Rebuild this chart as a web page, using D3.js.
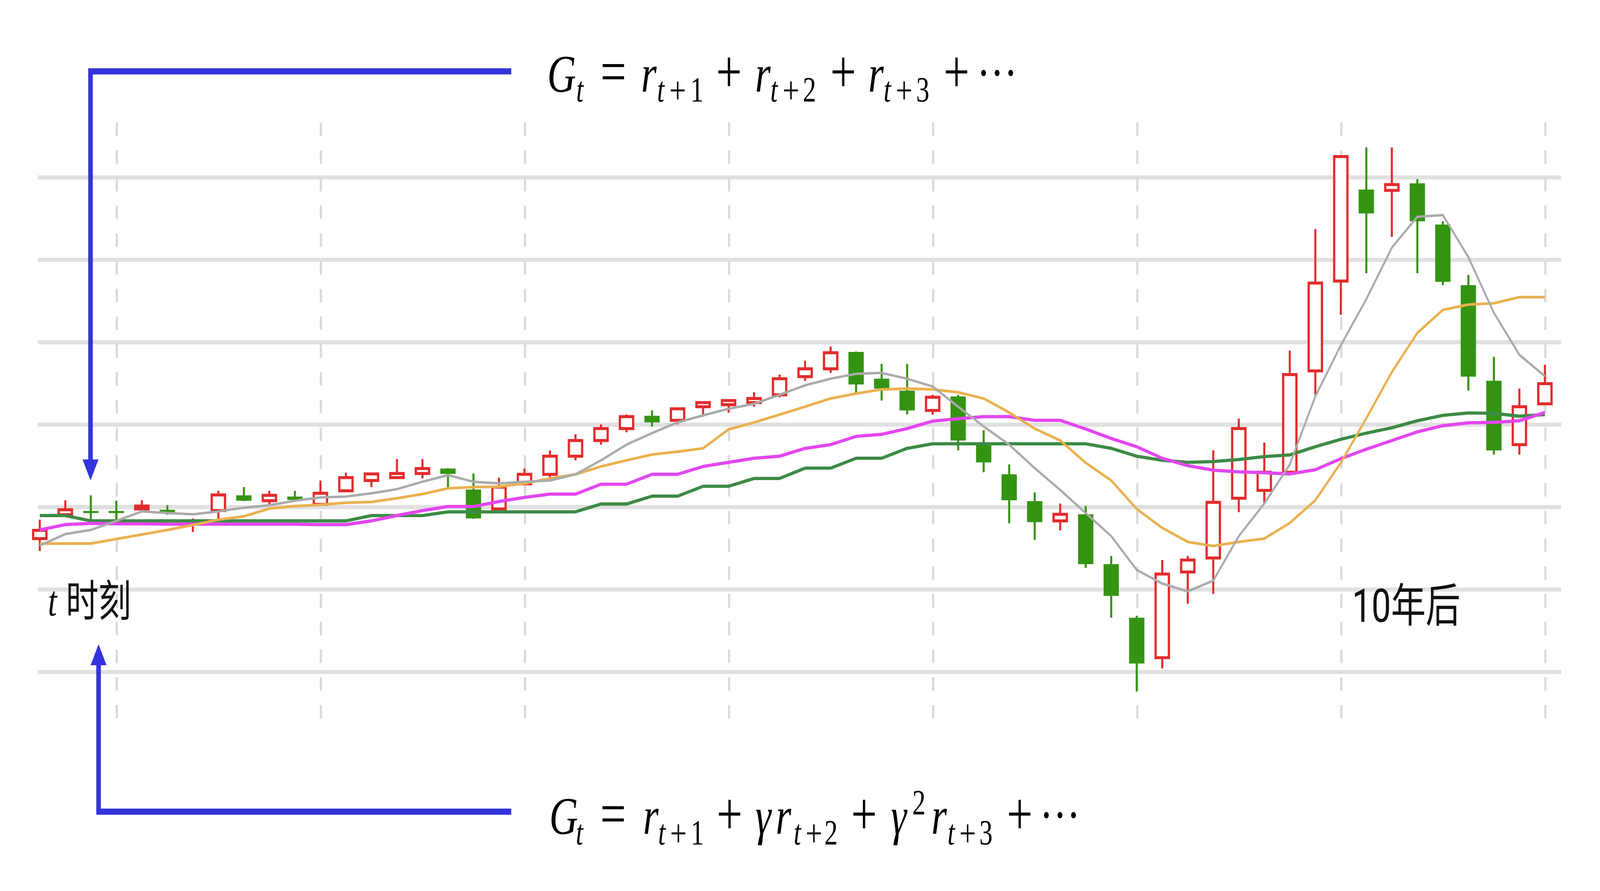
<!DOCTYPE html>
<html><head><meta http-equiv="Content-Type" content="text/html; charset=UTF-8">
<script src="https://d3js.org/d3.v7.min.js"></script>
<style>
  html, body { margin: 0; padding: 0; background: #fff; overflow: hidden; }
  svg { display: block; width: 100vw; height: 100vh; }
  svg text { -webkit-user-select: none; user-select: none; }
</style>
</head>
<body>
<div id="body"></div>
<script type="text/javascript">

var W = 5433, H = 2281,
    vw = 1568,
    vh = H * vw / W;

// candles (price units, gridlines every 2)
var opens  = [13.22, 13.80, 13.89, 13.89, 13.94, 13.92, 13.58, 13.90, 14.27, 14.14,
              14.24, 14.05, 14.38, 14.63, 14.70, 14.80, 14.92, 14.41, 13.94, 14.55,
              14.78, 15.22, 15.60, 15.89, 16.20, 16.09, 16.42, 16.47, 16.52, 16.71,
              17.15, 17.34, 17.75, 17.10, 16.81, 16.33, 16.67, 15.50, 14.78, 14.13,
              13.65, 13.81, 12.60, 11.30, 10.33, 12.41, 12.75, 14.20, 14.39, 14.83,
              17.29, 19.47, 21.69, 21.67, 21.84, 20.84, 19.37, 17.05, 15.50, 16.49];
var closes = [13.42, 13.92, 13.84, 13.84, 14.01, 13.84, 13.65, 14.28, 14.14, 14.27,
              14.16, 14.32, 14.70, 14.79, 14.80, 14.92, 14.79, 13.71, 14.47, 14.78,
              15.22, 15.60, 15.89, 16.18, 16.04, 16.37, 16.52, 16.57, 16.62, 17.10,
              17.34, 17.73, 16.96, 16.86, 16.33, 16.65, 15.60, 15.07, 14.15, 13.62,
              13.81, 12.60, 11.83, 10.19, 12.36, 12.70, 14.10, 15.89, 14.83, 17.20,
              19.42, 22.49, 21.11, 21.81, 20.92, 19.45, 17.15, 15.36, 16.42, 16.98];
var highs  = [13.68, 14.15, 14.27, 14.14, 14.15, 14.03, 13.71, 14.38, 14.47, 14.38,
              14.38, 14.63, 14.82, 14.80, 15.15, 15.15, 14.93, 14.80, 14.70, 14.92,
              15.36, 15.75, 15.99, 16.23, 16.33, 16.38, 16.53, 16.58, 16.77, 17.20,
              17.54, 17.88, 17.76, 17.46, 17.46, 16.71, 16.71, 15.85, 15.02, 14.34,
              14.07, 14.01, 12.80, 11.35, 12.70, 12.80, 15.36, 16.13, 15.55, 17.78,
              20.73, 22.50, 22.71, 22.71, 21.94, 20.92, 19.62, 17.63, 16.86, 17.44];
var lows   = [12.92, 13.78, 13.68, 13.68, 13.91, 13.80, 13.38, 13.68, 14.13, 14.05,
              14.14, 14.02, 14.37, 14.47, 14.69, 14.68, 14.47, 13.70, 13.93, 14.54,
              14.68, 15.12, 15.50, 15.80, 15.94, 15.99, 16.18, 16.28, 16.42, 16.65,
              17.05, 17.24, 16.76, 16.57, 16.23, 16.23, 15.36, 14.83, 13.59, 13.19,
              13.42, 12.51, 11.30, 9.51, 10.07, 11.64, 11.88, 13.86, 14.06, 14.78,
              16.71, 18.65, 19.66, 20.54, 19.66, 19.37, 16.81, 15.26, 15.26, 16.48];

// moving averages
var ma5  = [13.05, 13.33, 13.43, 13.65, 13.88, 13.84, 13.81, 13.88, 13.97, 14.03,
            14.14, 14.22, 14.24, 14.32, 14.42, 14.60, 14.76, 14.60, 14.56, 14.60,
            14.63, 14.78, 15.12, 15.50, 15.78, 16.04, 16.21, 16.37, 16.49, 16.71,
            16.94, 17.10, 17.22, 17.24, 17.10, 16.91, 16.42, 15.94, 15.50, 14.93,
            14.40, 13.84, 13.28, 12.46, 12.13, 11.94, 12.20, 13.28, 14.07, 15.02,
            16.67, 17.91, 19.03, 20.28, 21.03, 21.07, 20.05, 18.70, 17.68, 17.16];
var ma10 = [13.10, 13.10, 13.10, 13.21, 13.32, 13.43, 13.55, 13.68, 13.76, 13.95,
            14.01, 14.04, 14.09, 14.11, 14.20, 14.30, 14.44, 14.47, 14.48, 14.56,
            14.68, 14.78, 14.97, 15.12, 15.26, 15.33, 15.41, 15.87, 16.04, 16.23,
            16.42, 16.62, 16.74, 16.84, 16.86, 16.84, 16.77, 16.62, 16.28, 15.89,
            15.60, 15.06, 14.63, 13.94, 13.48, 13.14, 13.04, 13.14, 13.22, 13.60,
            14.15, 15.06, 16.14, 17.26, 18.21, 18.77, 18.90, 18.93, 19.08, 19.08];
var ma20 = [13.43, 13.56, 13.59, 13.58, 13.58, 13.57, 13.57, 13.57, 13.57, 13.57,
            13.57, 13.56, 13.56, 13.65, 13.78, 13.90, 14.00, 14.00, 14.12, 14.22,
            14.30, 14.30, 14.54, 14.54, 14.78, 14.78, 14.97, 15.07, 15.17, 15.22,
            15.41, 15.50, 15.70, 15.75, 15.89, 16.07, 16.13, 16.18, 16.18, 16.09,
            16.09, 15.88, 15.65, 15.45, 15.17, 14.99, 14.88, 14.84, 14.82, 14.79,
            14.89, 15.16, 15.39, 15.60, 15.81, 15.96, 16.03, 16.04, 16.08, 16.28];
var ma30 = [13.78, 13.78, 13.65, 13.65, 13.65, 13.65, 13.65, 13.65, 13.65, 13.65,
            13.65, 13.65, 13.65, 13.78, 13.78, 13.78, 13.87, 13.87, 13.87, 13.87,
            13.87, 13.87, 14.06, 14.06, 14.25, 14.25, 14.49, 14.49, 14.68, 14.68,
            14.93, 14.93, 15.17, 15.17, 15.41, 15.52, 15.52, 15.52, 15.52, 15.52,
            15.52, 15.52, 15.41, 15.22, 15.12, 15.07, 15.09, 15.14, 15.21, 15.25,
            15.45, 15.63, 15.78, 15.91, 16.08, 16.21, 16.27, 16.26, 16.19, 16.23];

var priceTicks = [10, 12, 14, 16, 18, 20, 22];
var dayTicks = [3, 11, 19, 27, 35, 43, 51, 59];

var red = "#e32b2b", green = "#349412";

var days = d3.range(opens.length);
var x = d3.scaleLinear().domain([0, days.length - 1]).range([39, 1514]);
var y = d3.scaleLinear().domain([10, 22]).range([496, 130.6]);

// the drawing fills the whole window
var svg = d3.select("#body").append("svg")
    .attr("viewBox", "0 0 " + vw + " " + vh)
    .attr("preserveAspectRatio", "none");
svg.append("rect")
    .attr("width", vw)
    .attr("height", vh)
    .attr("fill", "#fff");

// grid
svg.append("g")
    .attr("transform", "translate(37,0)")
    .call(d3.axisRight(y).tickValues(priceTicks).tickSize(1493).tickFormat(""))
    .call(function(g) { g.select(".domain").remove(); })
    .call(function(g) { g.selectAll("line").attr("stroke", "#e0e0e0").attr("stroke-width", 3); });

svg.append("g")
    .attr("transform", "translate(0,90.4)")
    .call(d3.axisBottom(x).tickValues(dayTicks).tickSize(447).tickFormat(""))
    .call(function(g) { g.select(".domain").remove(); })
    .call(function(g) {
        g.selectAll("line")
            .attr("stroke", "#dadada")
            .attr("stroke-width", 2.2)
            .attr("stroke-dasharray", "10,10.5");
    });

// candles
var candle = svg.append("g").selectAll("g")
    .data(days)
    .enter().append("g");

candle.append("line")
    .attr("x1", function(i) { return x(i); })
    .attr("x2", function(i) { return x(i); })
    .attr("y1", function(i) { return y(highs[i]); })
    .attr("y2", function(i) { return y(lows[i]); })
    .attr("stroke", function(i) { return closes[i] >= opens[i] ? red : green; })
    .attr("stroke-width", 2);

candle.append("rect")
    .attr("x", function(i) { return closes[i] >= opens[i] ? x(i) - 6.5 : x(i) - 7.5; })
    .attr("width", function(i) { return closes[i] >= opens[i] ? 13 : 15; })
    .attr("y", function(i) { return y(Math.max(opens[i], closes[i])); })
    .attr("height", function(i) { return Math.max(Math.abs(y(opens[i]) - y(closes[i])), 1.5); })
    .attr("fill", function(i) { return closes[i] >= opens[i] ? "#fff" : green; })
    .attr("stroke", function(i) { return closes[i] >= opens[i] ? red : "none"; })
    .attr("stroke-width", 2.2);

// moving averages
var line = d3.line()
    .x(function(d, i) { return x(i); })
    .y(function(d) { return y(d); });

var mas = [
    {values: ma30, color: "#3d8b45", width: 2.4},
    {values: ma20, color: "#e346f0", width: 2.4},
    {values: ma10, color: "#eab14f", width: 2},
    {values: ma5,  color: "#aaaaaa", width: 1.8}
];
svg.append("g").selectAll("path")
    .data(mas)
    .enter().append("path")
    .attr("d", function(d) { return line(d.values); })
    .attr("fill", "none")
    .attr("stroke", function(d) { return d.color; })
    .attr("stroke-width", function(d) { return d.width; })
    .attr("stroke-linejoin", "round");

// arrows
var blue = "#3434dc";
var arrows = svg.append("g");
arrows.append("path")
    .attr("d", "M501,52.7H88.7V341")
    .attr("fill", "none").attr("stroke", blue).attr("stroke-width", 4.5);
arrows.append("path")
    .attr("d", "M80.9,339.5L96.5,339.5L88.7,355Z")
    .attr("fill", blue);
arrows.append("path")
    .attr("d", "M501,599.7H96.6V490")
    .attr("fill", "none").attr("stroke", blue).attr("stroke-width", 4.5);
arrows.append("path")
    .attr("d", "M88.8,491.5L104.4,491.5L96.6,476Z")
    .attr("fill", blue);

// formulas, token by token: [text, centre x, kind]
var topFormula = [
    ["G", 550.4, "v"], ["t", 568.3, "sv"], ["=", 601.1, "op"],
    ["r", 635.9, "v"], ["t", 647.5, "sv"], ["+", 664.1, "sop"], ["1", 683, "s"],
    ["+", 714.4, "op"],
    ["r", 747.6, "v"], ["t", 758.5, "sv"], ["+", 775.1, "sop"], ["2", 793.3, "s"],
    ["+", 826.4, "op"],
    ["r", 858.5, "v"], ["t", 869.5, "sv"], ["+", 886.1, "sop"], ["3", 904.3, "s"],
    ["+", 937.4, "op"], ["\u00b7\u00b7\u00b7", 977.2, "dots"]
];
var bottomFormula = [
    ["G", 552.4, "v"], ["t", 567.9, "sv"], ["=", 600.9, "op"],
    ["r", 637.8, "v"], ["t", 648.6, "sv"], ["+", 664.8, "sop"], ["1", 683.4, "s"],
    ["+", 715, "op"],
    ["\u03b3", 748, "v"], ["r", 767.8, "v"], ["t", 781.4, "sv"], ["+", 797.6, "sop"], ["2", 814.4, "s"],
    ["+", 846.7, "op"],
    ["\u03b3", 880.8, "v"], ["2", 900.6, "sup"], ["r", 920.3, "v"], ["t", 932.1, "sv"], ["+", 948.3, "sop"], ["3", 966.2, "s"],
    ["+", 999.3, "op"], ["\u00b7\u00b7\u00b7", 1038.7, "dots"]
];

function drawFormula(tokens, base, sub, sup) {
    var g = svg.append("g")
        .attr("font-family", "'Liberation Serif', 'DejaVu Serif', serif")
        .attr("fill", "#000")
        .attr("text-anchor", "middle");
    g.selectAll("text")
        .data(tokens)
        .enter().append("text")
        .attr("x", function(d) { return d[1]; })
        .attr("y", function(d) {
            var k = d[2];
            if (k === "s" || k === "sv") return sub;
            if (k === "sop") return sub + 1.5;
            if (k === "sup") return sup;
            if (k === "dots") return base - 0.5;
            if (k === "op") return base + 0.2;
            return base;
        })
        .attr("font-size", function(d) {
            var k = d[2];
            if (k === "op") return 45;
            if (k === "dots") return 40;
            if (k === "sop") return 29;
            if (k === "s" || k === "sv" || k === "sup") return 26;
            return 39;
        })
        .attr("font-style", function(d) { return (d[2] === "v" || d[2] === "sv") ? "italic" : "normal"; })
        .text(function(d) { return d[0]; });
}
drawFormula(topFormula, 67.8, 75, 0);
drawFormula(bottomFormula, 616.2, 623.9, 601.7);

// labels
svg.append("text")
    .attr("x", 51.3).attr("y", 454.8)
    .attr("text-anchor", "middle")
    .attr("font-family", "'Liberation Serif', serif")
    .attr("font-style", "italic")
    .attr("font-size", 32)
    .attr("fill", "#111")
    .text("t");
svg.append("text")
    .attr("x", 64.5).attr("y", 455.5)
    .attr("font-family", "'Noto Sans CJK SC', sans-serif")
    .attr("font-size", 32)
    .attr("fill", "#111")
    .text("时刻");
svg.append("text")
    .attr("x", 1325).attr("y", 459.5)
    .attr("font-family", "Roboto, 'Noto Sans CJK SC', sans-serif")
    .attr("font-size", 34)
    .attr("fill", "#111")
    .text("10年后");

</script>
</body></html>
